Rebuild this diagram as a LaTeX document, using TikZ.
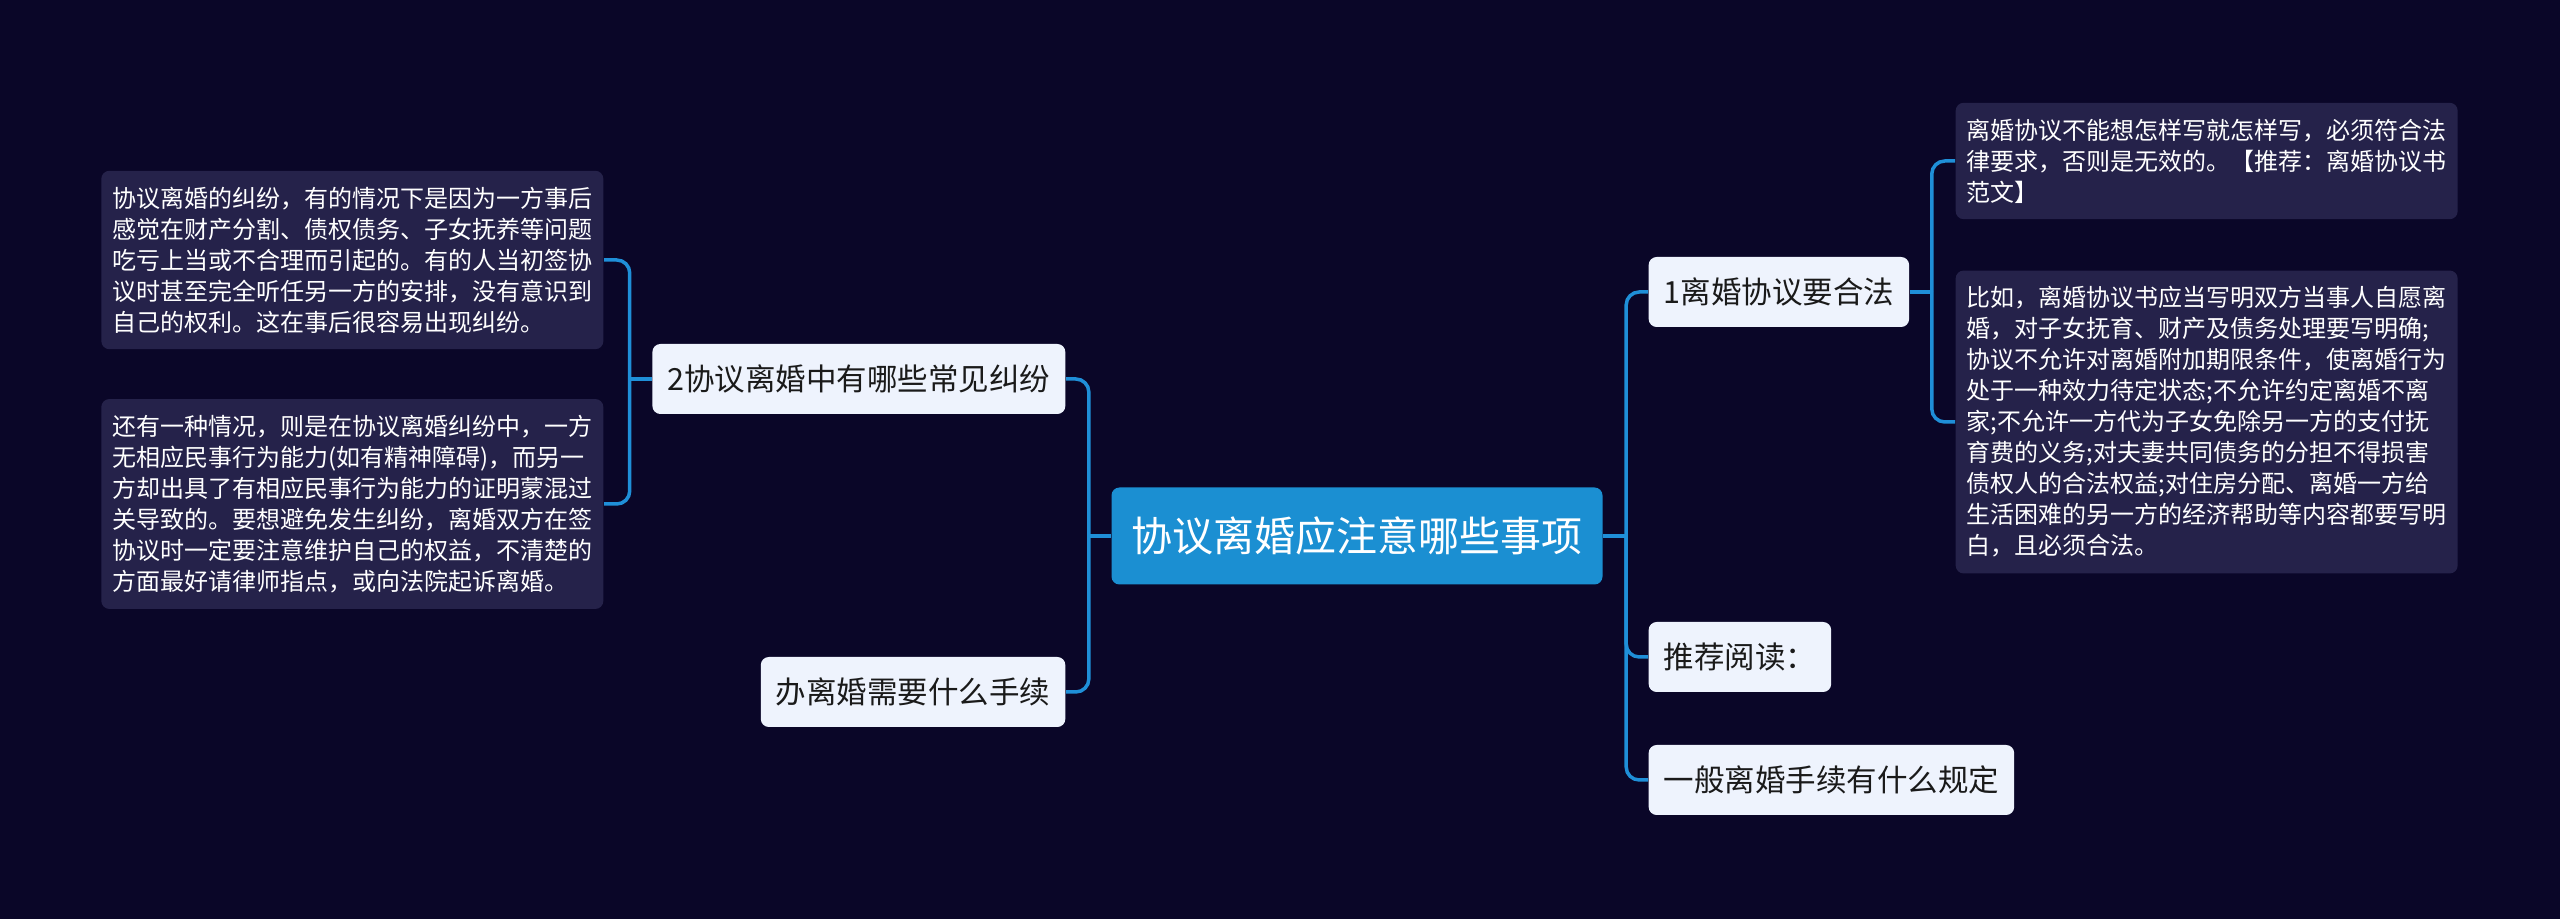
\documentclass[tikz,border=0pt]{standalone}
\usepackage{fontspec}
\setmainfont{Noto Sans CJK SC}
\usetikzlibrary{positioning}
\newdimen\px \px=0.3pt
\definecolor{bgcol}{HTML}{0A0628}
\definecolor{rootcol}{HTML}{1B8FD2}
\definecolor{topiccol}{HTML}{EEF3FD}
\definecolor{topictext}{HTML}{1A1A1A}
\definecolor{leafcol}{HTML}{25224A}
\definecolor{linkcol}{HTML}{1F8FD8}

\begin{document}
\begin{tikzpicture}[
  x=0.3pt, y=-0.3pt,
  root/.style={rectangle, rounded corners=8\px, fill=rootcol, text=white, inner sep=0pt, minimum width=491\px, minimum height=97\px, font=\fontsize{41\px}{49\px}\selectfont},
  topic/.style={rectangle, rounded corners=8\px, fill=topiccol, text=topictext, inner xsep=15\px, inner ysep=0pt, minimum height=70\px, font=\fontsize{30.5\px}{37\px}\selectfont},
  leaf/.style={rectangle, rounded corners=8\px, fill=leafcol, text=white, align=left, text width=480\px, inner xsep=11\px, inner ysep=16\px, font=\fontsize{24\px}{31\px}\selectfont},
  link/.style={draw=linkcol, line width=3.5\px, rounded corners=13\px}
]
\fill [bgcol] (0,0) rectangle (2560,919);
\useasboundingbox (0,0) rectangle (2560,919);

\node (root) [root] at (1357,536) {协议离婚应注意哪些事项};

% left side
\node (dispute)   [topic, anchor=east] at (1066,379) {2协议离婚中有哪些常见纠纷};
\node (procedure) [topic, anchor=east] at (1066,692) {办离婚需要什么手续};
\node (disputea)  [leaf, anchor=east] at (604,260) {协议离婚的纠纷，有的情况下是因为一方事后\\感觉在财产分割、债权债务、子女抚养等问题\\吃亏上当或不合理而引起的。有的人当初签协\\议时甚至完全听任另一方的安排，没有意识到\\自己的权利。这在事后很容易出现纠纷。};
\node (disputeb)  [leaf, anchor=east] at (604,504) {还有一种情况，则是在协议离婚纠纷中，一方\\无相应民事行为能力(如有精神障碍)，而另一\\方却出具了有相应民事行为能力的证明蒙混过\\关导致的。要想避免发生纠纷，离婚双方在签\\协议时一定要注意维护自己的权益，不清楚的\\方面最好请律师指点，或向法院起诉离婚。};

% right side
\node (legal)   [topic, anchor=west] at (1648,292) {1离婚协议要合法};
\node (reading) [topic, anchor=west] at (1648,657) {推荐阅读：};
\node (general) [topic, anchor=west] at (1648,780) {一般离婚手续有什么规定};
\node (legala)  [leaf, anchor=west] at (1955,161) {离婚协议不能想怎样写就怎样写，必须符合法\\律要求，否则是无效的。【推荐：离婚协议书\\范文】};
\node (legalb)  [leaf, anchor=west] at (1955,422) {比如，离婚协议书应当写明双方当事人自愿离\\婚，对子女抚育、财产及债务处理要写明确;\\协议不允许对离婚附加期限条件，使离婚行为\\处于一种效力待定状态;不允许约定离婚不离\\家;不允许一方代为子女免除另一方的支付抚\\育费的义务;对夫妻共同债务的分担不得损害\\债权人的合法权益;对住房分配、离婚一方给\\生活困难的另一方的经济帮助等内容都要写明\\白，且必须合法。};

% junctions
\coordinate [left=22\px of root.west]     (jl);
\coordinate [right=23\px of root.east]    (jr);
\coordinate [left=22\px of dispute.west]  (jd);
\coordinate [right=22\px of legal.east]   (jg);

\draw [link] (root.west) -- (jl);
\draw [link] (jl) |- (dispute.east);
\draw [link] (jl) |- (procedure.east);
\draw [link] (dispute.west) -- (jd);
\draw [link] (jd) |- (disputea.east);
\draw [link] (jd) |- (disputeb.east);
\draw [link] (root.east) -- (jr);
\draw [link] (jr) |- (legal.west);
\draw [link] (jr) |- (reading.west);
\draw [link] (jr) |- (general.west);
\draw [link] (legal.east) -- (jg);
\draw [link] (jg) |- (legala.west);
\draw [link] (jg) |- (legalb.west);
\end{tikzpicture}
\end{document}
